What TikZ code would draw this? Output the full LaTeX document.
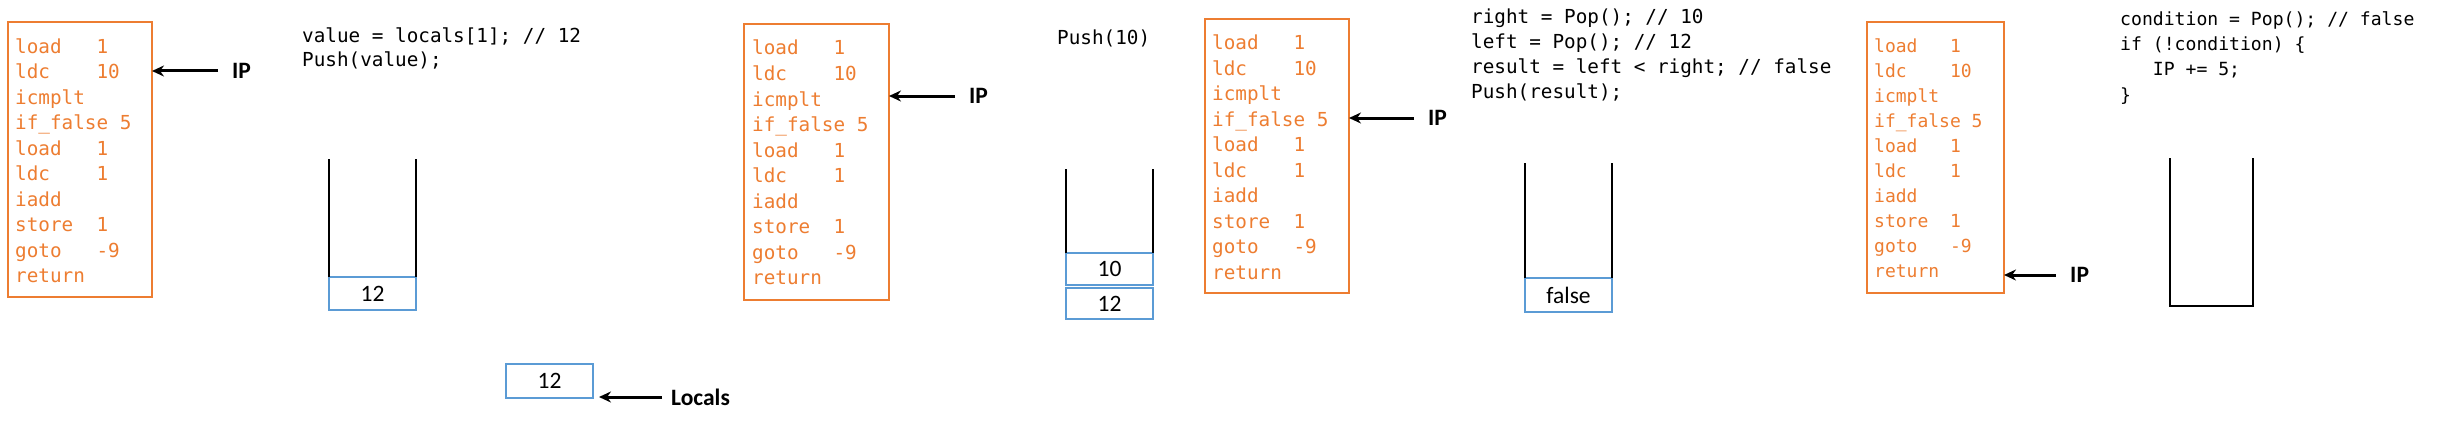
\documentclass[tikz,border=0pt]{standalone}
\usepackage{fontspec}
\setmonofont{DejaVu Sans Mono}
\setsansfont{Carlito}
\usetikzlibrary{positioning}
\usetikzlibrary{arrows.meta}
\frenchspacing
\definecolor{listorange}{HTML}{ED7D31}
\definecolor{cellblue}{HTML}{5B9BD5}
\newcommand{\bytecode}{load~~~1, ldc~~~~10, icmplt, if\_false~5, load~~~1, ldc~~~~1, iadd, store~~1, goto~~~-9, return}
\tikzset{listbox/.style={draw=listorange,line width=2.4pt,inner sep=0pt,outer sep=0pt},
	instr/.style={anchor=base west,inner sep=0pt,text=listorange,font=\fontsize{19.3}{25}\selectfont\ttfamily},
	src/.style={anchor=base west,inner sep=0pt,font=\fontsize{19.3}{25}\selectfont\ttfamily},
	cell/.style={draw=cellblue,line width=2pt,minimum width=87pt,minimum height=33pt,inner sep=0pt,outer sep=0pt,font=\fontsize{23.5}{28}\selectfont\sffamily},
	wall/.style={line width=2.6pt},
	ip/.style={anchor=west,inner sep=0pt,font=\fontsize{23.5}{28}\selectfont\sffamily\bfseries},
	ptr/.style={-{Stealth[length=12pt,width=11pt]},line width=3pt}}
\begin{document}
\begin{tikzpicture}[x=1pt,y=-1pt]
	\useasboundingbox (0,0) rectangle (2446,428);
	% step 1: load 1
	\begin{scope}[shift={(8,22)}]
		\node[listbox,minimum width=144pt,minimum height=275pt] (prog1) at (72,137.5) {};
		\foreach \ins [count=\k from 0] in \bytecode
			\node[instr] (prog1-\k) at (7,31.3+25.5*\k) {\ins};
	\end{scope}
	\node[ip] (ip1) at (232,71) {IP};
	\draw[ptr] ([xshift=-14pt]ip1.west) -- (prog1.east |- ip1.west);
	\node[src] (code1-1) at (302,42.3) {value = locals[1]; // 12};
	\node[src] (code1-2) at (302,66.7) {Push(value);};
	\node[cell] (stack1-1) at (372.5,293.5) {12};
	\draw[wall] (stack1-1.north west) -- ++(0,-118) (stack1-1.north east) -- ++(0,-118);
	\node[cell,minimum height=34pt] (locals) at (549.5,381) {12};
	\node[ip] (loclabel) at (671,397) {Locals};
	\draw[ptr,shorten >=6pt] ([xshift=-9pt]loclabel.west) -- (locals.east |- loclabel.west);
	% step 2: ldc 10
	\begin{scope}[shift={(744,24)}]
		\node[listbox,minimum width=145pt,minimum height=276pt] (prog2) at (72.5,138) {};
		\foreach \ins [count=\k from 0] in \bytecode
			\node[instr] (prog2-\k) at (8,31+25.5*\k) {\ins};
	\end{scope}
	\node[ip] (ip2) at (969,96) {IP};
	\draw[ptr] ([xshift=-14pt]ip2.west) -- (prog2.east |- ip2.west);
	\node[src] (code3-1) at (1057,45) {Push(10)};
	\node[cell,minimum height=31.5pt] (stack3-1) at (1109.5,303.7) {12};
	\node[cell,minimum height=31.5pt,above=3pt of stack3-1] (stack3-2) {10};
	\draw[wall] (stack3-2.north west) -- ++(0,-84) (stack3-2.north east) -- ++(0,-84);
	% step 3: icmplt
	\begin{scope}[shift={(1205,19)}]
		\node[listbox,minimum width=144pt,minimum height=274pt] (prog3) at (72,137) {};
		\foreach \ins [count=\k from 0] in \bytecode
			\node[instr] (prog3-\k) at (7,30.5+25.5*\k) {\ins};
	\end{scope}
	\node[ip] (ip3) at (1428,118) {IP};
	\draw[ptr] ([xshift=-14pt]ip3.west) -- (prog3.east |- ip3.west);
	\node[src] (code4-1) at (1471,23.3) {right = Pop(); // 10};
	\node[src] (code4-2) at (1471,48.5) {left = Pop(); // 12};
	\node[src] (code4-3) at (1471,73.7) {result = left < right; // false};
	\node[src] (code4-4) at (1471,99) {Push(result);};
	\node[cell,minimum height=34pt] (stack4-1) at (1568.5,295) {false};
	\draw[wall] (stack4-1.north west) -- ++(0,-115) (stack4-1.north east) -- ++(0,-115);
	% step 4: if_false 5
	\begin{scope}[shift={(1867,22)}]
		\node[listbox,minimum width=137pt,minimum height=271pt] (prog4) at (68.5,135.5) {};
		\foreach \ins [count=\k from 0] in \bytecode
			\node[instr,font=\fontsize{18}{25}\selectfont\ttfamily] (prog4-\k) at (7,30.7+25*\k) {\ins};
	\end{scope}
	\node[ip] (ip4) at (2070,275) {IP};
	\draw[ptr] ([xshift=-14pt]ip4.west) -- (prog4.east |- ip4.west);
	\begin{scope}[every node/.style={src,font=\fontsize{18.1}{25}\selectfont\ttfamily}]
		\node (code5-1) at (2120,26) {condition = Pop(); // false};
		\node (code5-2) at (2120,51) {if (!condition) \{};
		\node (code5-3) at (2120,76) {~~~IP += 5;};
		\node (code5-4) at (2120,101) {\}};
	\end{scope}
	\draw[wall] (2170,158) -- (2170,306) -- (2253,306) -- (2253,158);
\end{tikzpicture}
\end{document}
